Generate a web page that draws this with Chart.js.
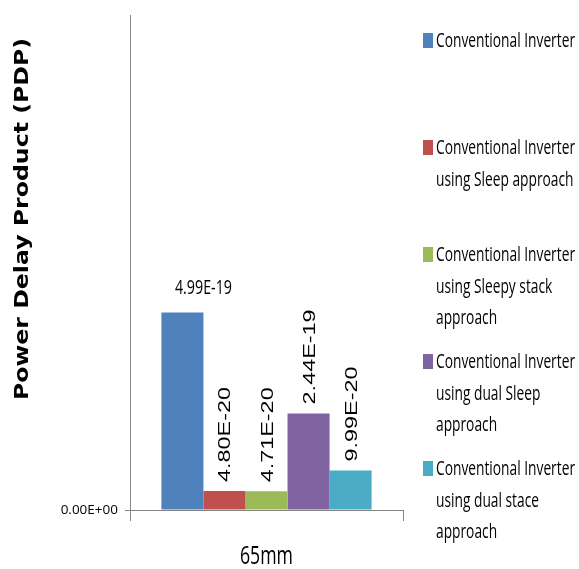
<!DOCTYPE html>
<html>
<head>
<meta charset="utf-8">
<script src="https://cdn.jsdelivr.net/npm/chart.js@4.4.1/dist/chart.umd.min.js"></script>
<style>
  html, body { margin: 0; padding: 0; background: #fff; }
  #wrap { width: 579px; height: 569px; position: relative; }
</style>
</head>
<body>
<div id="wrap"><canvas id="chart"></canvas></div>
<script>
const categories = ['65mm'];
const seriesNames = [
    ['Conventional Inverter'],
    ['Conventional Inverter', 'using Sleep approach'],
    ['Conventional Inverter', 'using Sleepy stack', 'approach'],
    ['Conventional Inverter', 'using dual Sleep', 'approach'],
    ['Conventional Inverter', 'using dual stace', 'approach']
];
const seriesValues = [[4.99e-19], [4.80e-20], [4.71e-20], [2.44e-19], [9.99e-20]];
const yTicks = [0];
const yMax = 1.25e-18;
const yTitle = 'Power Delay Product (PDP)';

const colors = ['#4F81BD', '#C0504D', '#9BBB59', '#8064A2', '#4BACC6'];
const axisColor = '#868686';

// Excel style scientific format: 4.99E-19, 0.00E+00
function fmt(v) {
    return v.toExponential(2).toUpperCase().replace(/E([+-])(\d)$/, 'E$10$2');
}

// draws text squeezed/stretched to a given width (the original picture is stretched)
function fitText(ctx, text, x, y, o) {
    ctx.save();
    ctx.translate(x, y);
    if (o.rotate) ctx.rotate(o.rotate);
    ctx.font = o.font;
    const w = ctx.measureText(text).width;
    const sx = o.width ? o.width / w : (o.sx || 1);
    ctx.scale(sx, o.sy || 1);
    ctx.textAlign = o.align || 'left';
    ctx.textBaseline = 'alphabetic';
    ctx.fillStyle = o.color || '#000';
    ctx.fillText(text, 0, 0);
    ctx.restore();
}

const decorations = {
    id: 'decorations',
    afterDatasetsDraw(chart) {
        const ctx = chart.ctx;

        // value labels
        seriesValues.forEach((vals, i) => {
            const bar = chart.getDatasetMeta(i).data[0];
            const txt = fmt(vals[0]);
            if (i === 0) {
                fitText(ctx, txt, bar.x + bar.width / 2, bar.y - 18,
                    { font: '16px "Open Sans"', width: 57, sy: 1.2, align: 'center' });
            } else {
                fitText(ctx, txt, bar.x + 6, bar.y - 9,
                    { font: '16px "Liberation Sans"', width: 95, rotate: -Math.PI / 2 });
            }
        });

        // y axis title
        fitText(ctx, yTitle, 28, 219,
            { font: 'bold 19px "DejaVu Sans"', width: 362, rotate: -Math.PI / 2, align: 'center' });

        // category label
        const xs = chart.scales.x;
        fitText(ctx, categories[0], xs.getPixelForValue(0), 564,
            { font: '21px "Open Sans"', width: 53, sy: 1.2, align: 'center' });

        // legend
        ctx.font = '16.3px "Open Sans"';
        const sx = 139 / ctx.measureText('Conventional Inverter').width;
        seriesNames.forEach((lines, i) => {
            const base = 47 + i * 107;
            ctx.fillStyle = colors[i];
            ctx.fillRect(423, base - 14, 10, 15);
            lines.forEach((line, j) => {
                fitText(ctx, line, 436, base + j * 31.5,
                    { font: '16.3px "Open Sans"', sx: sx, sy: 1.2 });
            });
        });
    }
};

new Chart(document.getElementById('chart'), {
    type: 'bar',
    data: {
        labels: categories,
        datasets: seriesValues.map((vals, i) => ({
            label: seriesNames[i].join(' '),
            data: vals,
            backgroundColor: colors[i],
            borderWidth: 0
        }))
    },
    options: {
        responsive: true,
        maintainAspectRatio: false,
        animation: false,
        layout: { padding: { top: 10, right: 176, left: 0, bottom: 0 } },
        datasets: { bar: { categoryPercentage: 0.77, barPercentage: 1 } },
        scales: {
            x: {
                offset: true,
                border: { color: axisColor },
                grid: { offset: true, drawOnChartArea: false, tickLength: 11, color: axisColor },
                ticks: { display: false },
                afterFit: (s) => { s.height = 59; }
            },
            y: {
                min: 0,
                max: yMax,
                border: { color: axisColor },
                grid: { drawOnChartArea: false, tickLength: 5, color: axisColor },
                ticks: {
                    padding: 7,
                    color: '#000',
                    font: { family: 'Open Sans', size: 13.5 },
                    callback: (v) => fmt(v)
                },
                afterBuildTicks: (s) => { s.ticks = yTicks.map(v => ({ value: v })); },
                afterFit: (s) => { s.width = 130; }
            }
        },
        plugins: {
            legend: { display: false },
            tooltip: { enabled: false }
        }
    },
    plugins: [decorations]
});
</script>
</body>
</html>
